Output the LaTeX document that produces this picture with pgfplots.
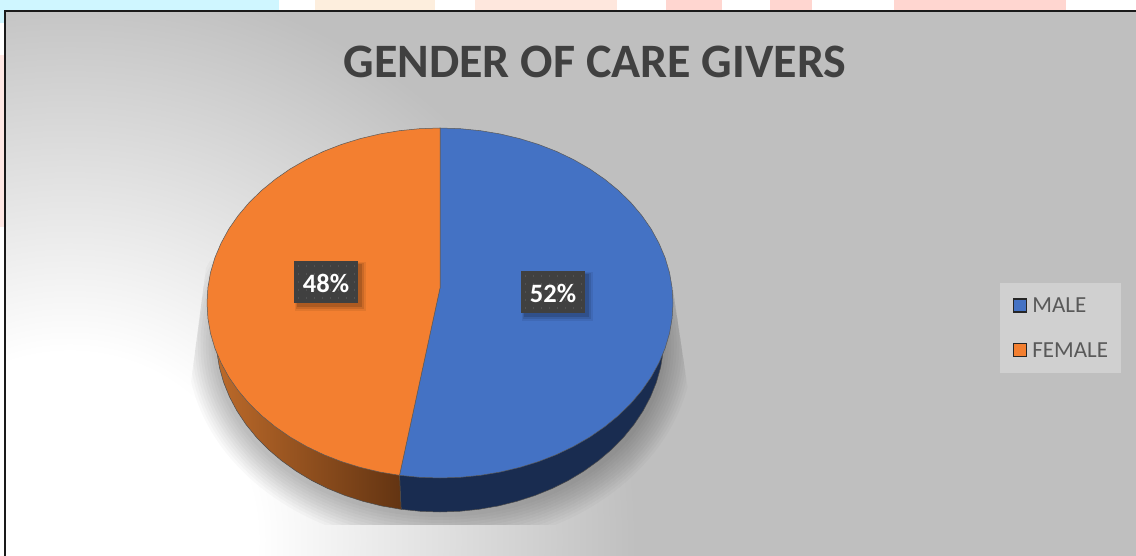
\documentclass[border=0pt]{standalone}
\usepackage{fontspec}
\setmainfont{Carlito}
\usepackage{pgfplots}
\pgfplotsset{compat=1.18}

\definecolor{maleblue}{HTML}{4472C4}
\definecolor{femaleorange}{HTML}{F37F30}
\definecolor{bggrey}{HTML}{BFBFBF}
\definecolor{labelgrey}{HTML}{404040}
\definecolor{labeldot}{HTML}{525252}
\definecolor{titlegrey}{HTML}{404040}
\definecolor{legendgrey}{HTML}{595959}
\definecolor{legendfill}{HTML}{D0D0D0}
\definecolor{wallblue}{HTML}{192C50}
\definecolor{wallleft}{HTML}{BC6A2A}
\definecolor{wallright}{HTML}{633412}
\definecolor{stripcyan}{HTML}{CFF6FF}
\definecolor{strippeach}{HTML}{FDEEDD}
\definecolor{strippink}{HTML}{FEE7DD}
\definecolor{striprose}{HTML}{FFD6D0}
\definecolor{stripside}{HTML}{FFE8E4}
\definecolor{framedark}{HTML}{1A1A1A}

% percent label: dark box with dots, top left corner at #1,#2
\newcommand{\pctbox}[3]{%
  \fill[black,opacity=.07] (axis cs:#1,#2) ++(1pt,-1pt) rectangle ++(71pt,-49pt);
  \fill[black,opacity=.10] (axis cs:#1,#2) ++(2pt,-2pt) rectangle ++(68pt,-46pt);
  \fill[black,opacity=.14] (axis cs:#1,#2) ++(3pt,-3pt) rectangle ++(65pt,-43pt);
  \fill[labelgrey] (axis cs:#1,#2) rectangle ++(64pt,-42pt);
  \draw[labeldot,line width=1.4pt,dash pattern=on 1.4pt off 6.6pt] (axis cs:#1,#2) ++(4pt,-5pt) -- ++(58pt,0pt);
  \draw[labeldot,line width=1.4pt,dash pattern=on 1.4pt off 6.6pt] (axis cs:#1,#2) ++(4pt,-13pt) -- ++(58pt,0pt);
  \draw[labeldot,line width=1.4pt,dash pattern=on 1.4pt off 6.6pt] (axis cs:#1,#2) ++(4pt,-21pt) -- ++(58pt,0pt);
  \draw[labeldot,line width=1.4pt,dash pattern=on 1.4pt off 6.6pt] (axis cs:#1,#2) ++(4pt,-29pt) -- ++(58pt,0pt);
  \draw[labeldot,line width=1.4pt,dash pattern=on 1.4pt off 6.6pt] (axis cs:#1,#2) ++(4pt,-37pt) -- ++(58pt,0pt);
  \path (axis cs:#1,#2) ++(32pt,-22.5pt) node[white,font=\bfseries\fontsize{26.5}{26.5}\selectfont] {#3};
}

\begin{document}
\begin{tikzpicture}[x=1pt,y=1pt]
  \useasboundingbox (0,0) rectangle (1136,556);
  % what shows of the page round the chart
  \fill[white] (0,0) rectangle (1136,556);
  \fill[stripcyan] (0,546) rectangle (279,556);
  \fill[strippeach] (315,546) rectangle (435,556);
  \fill[strippink] (475,546) rectangle (617,556);
  \fill[striprose] (666,546) rectangle (722,556);
  \fill[striprose] (770,546) rectangle (812,556);
  \fill[striprose] (894,546) rectangle (1066,556);
  \fill[stripcyan] (0,533) rectangle (4,556);
  \fill[stripside] (0,329) rectangle (4,501);

  % chart area, white to grey round the lower left, one step per grey level
  \begin{scope}
    \clip (5,0) rectangle (1136,545);
    \fill[bggrey] (0,0) rectangle (1136,556);
    \foreach \i in {1,...,64}{
      \pgfmathsetmacro{\r}{570-5.94*\i}
      \pgfmathsetmacro{\p}{100-100*\i/64}
      \fill[bggrey!\p!white] (70,16) circle (\r);
    }
  \end{scope}

  % soft ground shadow of the pie
  \begin{scope}
    \clip (207,296) -- (190,166) -- (190,31) -- (688,31) -- (688,166) -- (673,266) -- cycle;
    \foreach \k in {0,1,...,10}{
      \fill[black,opacity=.024] (440,211) ellipse ({226+2.7*\k} and {172+3*\k});
    }
  \end{scope}

  \draw[line width=2pt,framedark] (5,0) -- (5,545) -- (1136,545);

  \begin{axis}[
    at={(0pt,0pt)},anchor=south west,
    scale only axis,
    width=1136pt,height=556pt,
    xmin=0,xmax=1136,
    ymin=0,ymax=556,
    y dir=reverse,
    hide axis,
    clip=false,
    legend cell align=left,
    legend style={
      at={(axis cs:1000,283)},anchor=north west,
      draw=none,fill=legendfill,
      font=\fontsize{23}{23}\selectfont\color{legendgrey},
      inner xsep=12.5pt,inner ysep=15pt,
      row sep=30pt,
      nodes={inner sep=0pt,text depth=0pt},
    },
    legend image code/.code={
      \draw[#1,line width=1.3pt,draw=black!85] (0pt,-6.5pt) rectangle (13pt,6.5pt);
      \path[draw=none,fill=none] (0pt,0pt) -- (19pt,0pt);
    },
  ]
  % side wall, blue part
  \addplot[forget plot,fill=wallblue,draw=black!70,line width=.5pt] coordinates {
    (440,303) (634.0,249.5) (643.5,262.9) (651.5,277.4) (657.8,291.7) (662.6,306.6) (665.1,321.7)
    (664,337) (663.1,352.3) (660.6,367.4) (656.4,382.3) (650.5,396.9) (643,411) (634,424.5)
    (623.5,437.4) (611.6,449.5) (598.4,460.7) (583.9,471.1) (568.5,480.4) (552,488.6) (534.7,495.6)
    (516.6,501.4) (498,506) (478.9,509.3) (459.5,511.3) (440,512) (420.5,511.3) (401.1,509.3)
    (399.5,475.3) (440,303)
  };
  % side wall, orange part
  \addplot[forget plot,left color=wallleft,right color=wallright,draw=black!70,line width=.5pt] coordinates {
    (399.5,475.3) (401.1,509.3) (382,506) (363.4,501.4) (345.3,495.6) (328,488.6) (311.5,480.4)
    (296.1,471.1) (281.6,460.7) (268.4,449.5) (256.5,437.4) (246,424.5) (237,411) (229.5,396.9)
    (223.6,382.3) (219.4,367.4) (216.9,352.3) (216,337) (216.9,321.7) (219.4,306.6) (230,280)
    (399.5,303) (399.5,475.3)
  };
  % top face, MALE 52 %
  \addplot[fill=maleblue,draw=black!65,line width=.5pt] coordinates {
    (440,288) (440,128) (460.3,128.7) (480.5,130.7) (500.3,134) (519.7,138.6) (538.5,144.4)
    (556.5,151.4) (573.6,159.6) (589.8,168.9) (604.8,179.3) (618.5,190.5) (630.9,202.6) (641.8,215.5)
    (651.2,229) (658.9,243.1) (665.1,257.7) (669.5,272.6) (672.1,287.7) (673,303) (672.1,318.3)
    (669.5,333.4) (665.1,348.3) (658.9,362.9) (651.2,377) (641.8,390.5) (630.9,403.4) (618.5,415.5)
    (604.8,426.7) (589.8,437.1) (573.6,446.4) (556.5,454.6) (538.5,461.6) (519.7,467.4) (500.3,472)
    (480.5,475.3) (460.3,477.3) (440,478) (419.7,477.3) (399.5,475.3) (440,288)
  };
  % top face, FEMALE 48 %
  \addplot[fill=femaleorange,draw=black!65,line width=.5pt] coordinates {
    (440,288) (399.5,475.3) (379.7,472) (360.3,467.4) (341.5,461.6) (323.5,454.6) (306.4,446.4)
    (290.2,437.1) (275.2,426.7) (261.5,415.5) (249.1,403.4) (238.2,390.5) (228.8,377) (221.1,362.9)
    (214.9,348.3) (210.5,333.4) (207.9,318.3) (207,303) (207.9,287.7) (210.5,272.6) (214.9,257.7)
    (221.1,243.1) (228.8,229) (238.2,215.5) (249.1,202.6) (261.5,190.5) (275.2,179.3) (290.2,168.9)
    (306.4,159.6) (323.5,151.4) (341.5,144.4) (360.3,138.6) (379.7,134) (399.5,130.7) (419.7,128.7)
    (440,128) (440,288)
  };
  \legend{MALE,FEMALE}

  \pctbox{294}{261}{48\%}
  \pctbox{521}{271}{52\%}

  \node[titlegrey,font=\bfseries\fontsize{48}{48}\selectfont] at (axis cs:595,62) {GENDER OF CARE GIVERS};
  \end{axis}
\end{tikzpicture}
\end{document}
